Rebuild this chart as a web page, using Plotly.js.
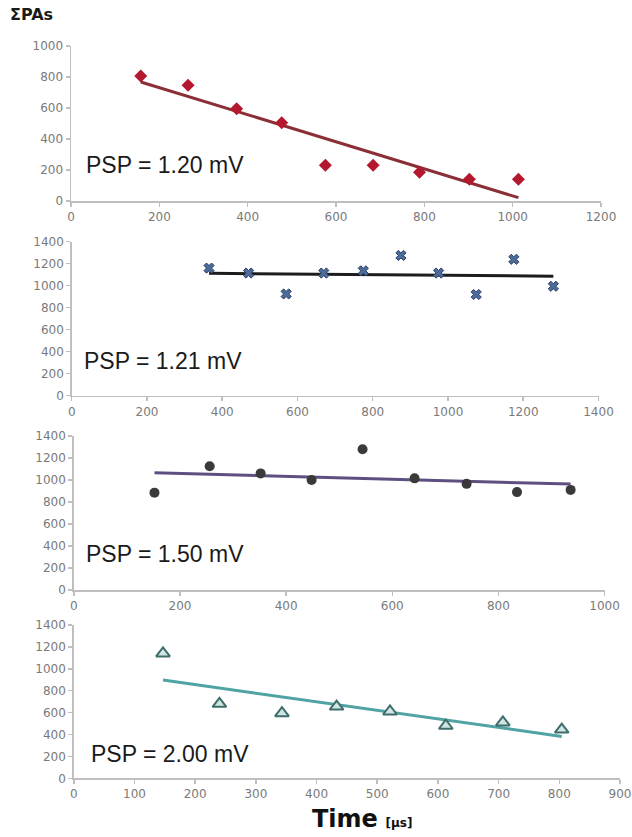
<!DOCTYPE html>
<html>
<head>
<meta charset="utf-8">
<script src="https://cdn.plot.ly/plotly-3.0.1.min.js"></script>
<style>html,body{margin:0;padding:0;background:#fff;}#chart{width:632px;height:837px;}</style>
</head>
<body>
<div id="chart"></div>
<script>
// ---- data ----
const psp1Time = [158, 265, 375, 477, 576, 684, 789, 902, 1013];
const psp1Sum  = [806, 747, 595, 505, 230, 230, 185, 140, 140];

const psp2Time = [365, 470, 570, 670, 775, 875, 975, 1075, 1175, 1280];
const psp2Sum  = [1160, 1115, 925, 1115, 1135, 1275, 1115, 920, 1240, 995];

const psp3Time = [152, 256, 352, 448, 544, 642, 740, 835, 936];
const psp3Sum  = [885, 1125, 1060, 1000, 1280, 1015, 965, 890, 910];

const psp4Time = [147, 240, 343, 433, 521, 613, 707, 804];
const psp4Sum  = [1140, 680, 595, 655, 610, 480, 510, 445];

const panelLabels = ['PSP = 1.20 mV', 'PSP = 1.21 mV', 'PSP = 1.50 mV', 'PSP = 2.00 mV'];
const yTitle = 'ΣPAs';
const xTitle = 'Time';
const xUnit = '[μs]';

// least-squares trend line
function trend(xs, ys) {
  const n = xs.length;
  const mx = xs.reduce((a, b) => a + b, 0) / n;
  const my = ys.reduce((a, b) => a + b, 0) / n;
  let sxy = 0, sxx = 0;
  for (let i = 0; i < n; i++) { sxy += (xs[i] - mx) * (ys[i] - my); sxx += (xs[i] - mx) ** 2; }
  const b = sxy / sxx, a = my - b * mx;
  const x0 = Math.min(...xs), x1 = Math.max(...xs);
  return { x: [x0, x1], y: [a + b * x0, a + b * x1] };
}

const W = 632, H = 837;
const panels = [
  { xs: psp1Time, ys: psp1Sum, xr: [0, 1200], xd: 200, yr: [0, 1000], px: [71, 601], py: [46, 201],
    marker: { symbol: 'diamond', size: 10, color: '#b3182f' }, line: '#8a2f35', lab: [165, 165] },
  { xs: psp2Time, ys: psp2Sum, xr: [0, 1400], xd: 200, yr: [0, 1400], px: [71.7, 598.5], py: [241.7, 395.7],
    marker: { symbol: 'x', size: 9, color: '#4d6b99', line: { width: 1, color: '#2b3f66' } }, line: '#1c1c1c', lab: [163, 361] },
  { xs: psp3Time, ys: psp3Sum, xr: [0, 1000], xd: 200, yr: [0, 1400], px: [73.8, 604.6], py: [436, 590],
    marker: { symbol: 'circle', size: 10, color: '#3a3a3a' }, line: '#5e4f80', lab: [165, 554] },
  { xs: psp4Time, ys: psp4Sum, xr: [0, 900], xd: 100, yr: [0, 1400], px: [73.8, 620], py: [625, 778.3],
    marker: { symbol: 'triangle-up', size: 12, color: '#cfe6e2', line: { width: 2, color: '#3f6d6b' } }, line: '#4fa3a2', lab: [170, 754] }
];

const traces = [];
const layout = {
  width: W, height: H,
  margin: { l: 0, r: 0, t: 0, b: 0 },
  paper_bgcolor: '#ffffff', plot_bgcolor: 'rgba(0,0,0,0)',
  showlegend: false,
  font: { family: 'DejaVu Sans, sans-serif', color: '#7f7f7f', size: 12 },
  annotations: []
};

panels.forEach((p, i) => {
  const k = i === 0 ? '' : String(i + 1);
  const t = trend(p.xs, p.ys);
  traces.push({ x: t.x, y: t.y, mode: 'lines', xaxis: 'x' + k, yaxis: 'y' + k,
    line: { color: p.line, width: 3 }, hoverinfo: 'skip' });
  traces.push({ x: p.xs, y: p.ys, mode: 'markers', xaxis: 'x' + k, yaxis: 'y' + k, marker: p.marker, cliponaxis: false });
  const axCommon = { showgrid: false, zeroline: false, showline: true, linecolor: '#bfbfbf', linewidth: 1.5,
    ticks: 'outside', ticklen: 4, tickcolor: '#bfbfbf', tickwidth: 1.5,
    tickfont: { family: 'DejaVu Sans, sans-serif', size: 12, color: '#7a7a7a' } };
  layout['xaxis' + k] = Object.assign({}, axCommon, {
    domain: [p.px[0] / W, p.px[1] / W], range: p.xr, dtick: p.xd, tick0: 0,
    anchor: 'y' + k, fixedrange: true });
  layout['yaxis' + k] = Object.assign({}, axCommon, {
    domain: [1 - p.py[1] / H, 1 - p.py[0] / H], range: p.yr, dtick: 200, tick0: 0,
    anchor: 'x' + k, fixedrange: true });
  layout.annotations.push({ xref: 'paper', yref: 'paper', x: p.lab[0] / W, y: 1 - p.lab[1] / H,
    text: panelLabels[i], showarrow: false, xanchor: 'center', yanchor: 'middle',
    font: { family: 'Liberation Sans, Arial, sans-serif', size: 23, color: '#1a1a1a' } });
});

layout.annotations.push({ xref: 'paper', yref: 'paper', x: 31 / W, y: 1 - 15 / H, text: '<b>' + yTitle + '</b>',
  showarrow: false, xanchor: 'center', yanchor: 'middle',
  font: { family: 'DejaVu Sans, sans-serif', size: 16, color: '#1a1a1a' } });
layout.annotations.push({ xref: 'paper', yref: 'paper', x: 362 / W, y: 1 - 819 / H,
  text: '<b>' + xTitle + '</b> <b><span style="font-size:12px">' + xUnit + '</span></b>',
  showarrow: false, xanchor: 'center', yanchor: 'middle',
  font: { family: 'DejaVu Sans, sans-serif', size: 24, color: '#111111' } });

Plotly.newPlot('chart', traces, layout, { staticPlot: true, displayModeBar: false });
</script>
</body>
</html>
